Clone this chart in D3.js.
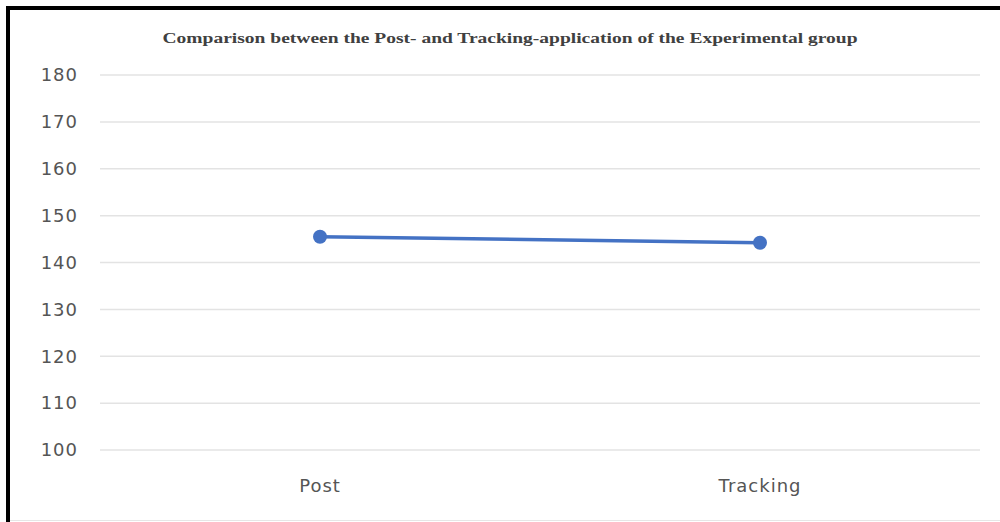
<!DOCTYPE html>
<html>
<head>
<meta charset="utf-8">
<script src="https://cdn.jsdelivr.net/npm/d3@7/dist/d3.min.js"></script>
<style>
  html, body { margin: 0; padding: 0; background: #fff; }
  svg { display: block; }
</style>
</head>
<body>
<div id="chart"></div>
<script>
// chart data
var categories = ["Post", "Tracking"];
var values = [145.5, 144.2];
var yTicks = [100, 110, 120, 130, 140, 150, 160, 170, 180];
var title = "Comparison between the Post- and Tracking-application of the Experimental group";

var width = 1000, height = 522;
var margin = {top: 75, right: 20, bottom: 72, left: 100};

var svg = d3.select("#chart").append("svg")
    .attr("width", width)
    .attr("height", height);

svg.append("rect")
    .attr("width", width).attr("height", height)
    .attr("fill", "#ffffff");

// frame: thick black top and left, faint bottom
svg.append("line").attr("x1", 6).attr("x2", width).attr("y1", 8).attr("y2", 8)
    .attr("stroke", "#000").attr("stroke-width", 4);
svg.append("line").attr("x1", 8).attr("x2", 8).attr("y1", 6).attr("y2", height)
    .attr("stroke", "#000").attr("stroke-width", 4);
svg.append("line").attr("x1", 10).attr("x2", width).attr("y1", 520.5).attr("y2", 520.5)
    .attr("stroke", "#e6e6e6").attr("stroke-width", 1);

var x = d3.scaleBand()
    .domain(categories)
    .range([margin.left, width - margin.right]);

var y = d3.scaleLinear()
    .domain([100, 180])
    .range([height - margin.bottom, margin.top]);

// gridlines
svg.append("g")
    .selectAll("line")
    .data(yTicks)
    .enter().append("line")
    .attr("x1", margin.left)
    .attr("x2", width - margin.right)
    .attr("y1", function (d) { return y(d); })
    .attr("y2", function (d) { return y(d); })
    .attr("stroke", "#e3e3e3")
    .attr("stroke-width", 1.5);

// y axis labels
var yAxis = d3.axisLeft(y).tickValues(yTicks).tickSize(0).tickPadding(0);
var yg = svg.append("g")
    .attr("transform", "translate(78,0)")
    .call(yAxis);
yg.select(".domain").remove();
yg.selectAll("text")
    .attr("fill", "#555555")
    .style("font-family", "DejaVu Sans, sans-serif")
    .style("font-size", "18px")
    .style("letter-spacing", "1px");

// x axis labels
var xAxis = d3.axisBottom(x).tickSize(0).tickPadding(0);
var xg = svg.append("g")
    .attr("transform", "translate(0," + (height - 36) + ")")
    .call(xAxis);
xg.select(".domain").remove();
xg.selectAll("text")
    .attr("fill", "#555555")
    .attr("dy", "0.35em")
    .style("font-family", "DejaVu Sans, sans-serif")
    .style("font-size", "18px")
    .style("letter-spacing", "1px");

// series line
var cx = function (d, i) { return x(categories[i]) + x.bandwidth() / 2; };
var line = d3.line()
    .x(cx)
    .y(function (d) { return y(d); });

svg.append("path")
    .datum(values)
    .attr("d", line)
    .attr("fill", "none")
    .attr("stroke", "#4472c4")
    .attr("stroke-width", 3.5);

svg.append("g")
    .selectAll("circle")
    .data(values)
    .enter().append("circle")
    .attr("cx", cx)
    .attr("cy", function (d) { return y(d); })
    .attr("r", 7)
    .attr("fill", "#4472c4");

// title
svg.append("text")
    .attr("x", 510)
    .attr("y", 43)
    .attr("text-anchor", "middle")
    .attr("textLength", 695)
    .attr("lengthAdjust", "spacingAndGlyphs")
    .attr("fill", "#404040")
    .style("font-family", "Liberation Serif, serif")
    .style("font-weight", "bold")
    .style("font-size", "15px")
    .text(title);
</script>
</body>
</html>
